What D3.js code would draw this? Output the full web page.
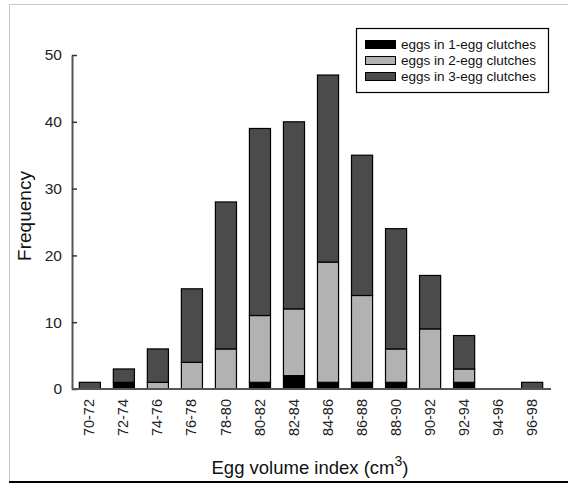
<!DOCTYPE html>
<html>
<head>
<meta charset="utf-8">
<script src="https://cdn.jsdelivr.net/npm/d3@7"></script>
<style>
  body { margin: 0; background: #fff; }
  text { font-family: "Liberation Sans", Arial, sans-serif; }
</style>
</head>
<body>
<script>
// bins and counts
const bins = ["70-72","72-74","74-76","76-78","78-80","80-82","82-84","84-86","86-88","88-90","90-92","92-94","94-96","96-98"];
const oneEgg   = [0,1,0,0,0,1,2,1,1,1,0,1,0,0];
const twoEgg   = [0,0,1,4,6,10,10,18,13,5,9,2,0,0];
const threeEgg = [1,2,5,11,22,28,28,28,21,18,8,5,0,1];
const yTicks = [0,10,20,30,40,50];
const seriesNames = ["eggs in 1-egg clutches","eggs in 2-egg clutches","eggs in 3-egg clutches"];
const colors = ["#000000","#b2b2b2","#4b4b4b"];

const W = 568, H = 485;
const margin = {left: 72, right: 19, top: 55, bottom: 96};

var svg = d3.select("body").append("svg")
  .attr("width", W).attr("height", H);

// outer frame
svg.append("line").attr("x1",9.5).attr("x2",9.5).attr("y1",4).attr("y2",482).attr("stroke","#c8c8c8");
svg.append("line").attr("x1",9).attr("x2",W).attr("y1",4.5).attr("y2",4.5).attr("stroke","#c8c8c8");
svg.append("line").attr("x1",9).attr("x2",W).attr("y1",482).attr("y2",482).attr("stroke","#000").attr("stroke-width",2);

var table = bins.map((b,i)=>({bin:b, one:oneEgg[i], two:twoEgg[i], three:threeEgg[i]}));
var stack = d3.stack().keys(["one","two","three"])(table);

var x = d3.scaleBand()
  .domain(bins)
  .range([margin.left, W - margin.right])
  .paddingInner(0.38)
  .paddingOuter(0.2);

var y = d3.scaleLinear()
  .domain([0, 50])
  .range([H - margin.bottom, margin.top]);

// bars
var layers = svg.append("g").selectAll("g")
  .data(stack).enter().append("g")
  .attr("fill", (d,i)=>colors[i]);

layers.selectAll("rect")
  .data(d=>d.filter(s=>s[1]-s[0]>0))
  .enter().append("rect")
  .attr("x", d=>x(d.data.bin)+0.5)
  .attr("y", d=>y(d[1]))
  .attr("width", x.bandwidth())
  .attr("height", d=>y(d[0])-y(d[1]))
  .attr("stroke", "#000")
  .attr("stroke-width", 1.2);

// y axis
var yAxis = d3.axisLeft(y).tickValues(yTicks).tickSizeInner(-5).tickSizeOuter(0).tickPadding(10);
var gy = svg.append("g")
  .attr("transform", "translate(" + margin.left + ",0)")
  .call(yAxis);
gy.select(".domain").attr("stroke","#555").attr("stroke-width",2);
gy.selectAll(".tick line").attr("stroke","#333").attr("stroke-width",1.5);
gy.selectAll("text").attr("font-size",15.5).attr("fill","#222");

// x axis
var xAxis = d3.axisBottom(x).tickSize(0).tickPadding(0);
var gx = svg.append("g")
  .attr("transform", "translate(0," + (H - margin.bottom) + ")")
  .call(xAxis);
gx.select(".domain").attr("stroke","#555").attr("stroke-width",2)
  .attr("d", "M" + margin.left + ",0H" + (W - margin.right + 2));
gx.selectAll("text")
  .attr("font-size",14.5).attr("fill","#222")
  .attr("text-anchor","end")
  .attr("dy","0.35em")
  .attr("transform","translate(0,10) rotate(-90)")
  .attr("x",0).attr("y",0);

// axis titles
svg.append("text")
  .attr("transform","translate(31,216) rotate(-90)")
  .attr("text-anchor","middle")
  .attr("font-size",19).attr("fill","#111")
  .text("Frequency");

var xt = svg.append("text")
  .attr("x", 310).attr("y", 474)
  .attr("text-anchor","middle")
  .attr("font-size",18.5).attr("fill","#111");
xt.append("tspan").text("Egg volume index (cm");
xt.append("tspan").attr("dy",-8).attr("font-size",14).text("3");
xt.append("tspan").attr("dy",8).text(")");

// legend
var lg = svg.append("g");
lg.append("rect")
  .attr("x",356.5).attr("y",28.5).attr("width",192).attr("height",64)
  .attr("fill","#fff").attr("stroke","#000").attr("stroke-width",1.2);
seriesNames.forEach((name,i)=>{
  lg.append("rect")
    .attr("x",365.5).attr("y",40.5+i*16).attr("width",30).attr("height",8)
    .attr("fill",colors[i]).attr("stroke","#000");
  lg.append("text")
    .attr("x",401).attr("y",44.5+i*16).attr("dy","0.35em")
    .attr("font-size",13.5).attr("fill","#111")
    .text(name);
});
</script>
</body>
</html>
